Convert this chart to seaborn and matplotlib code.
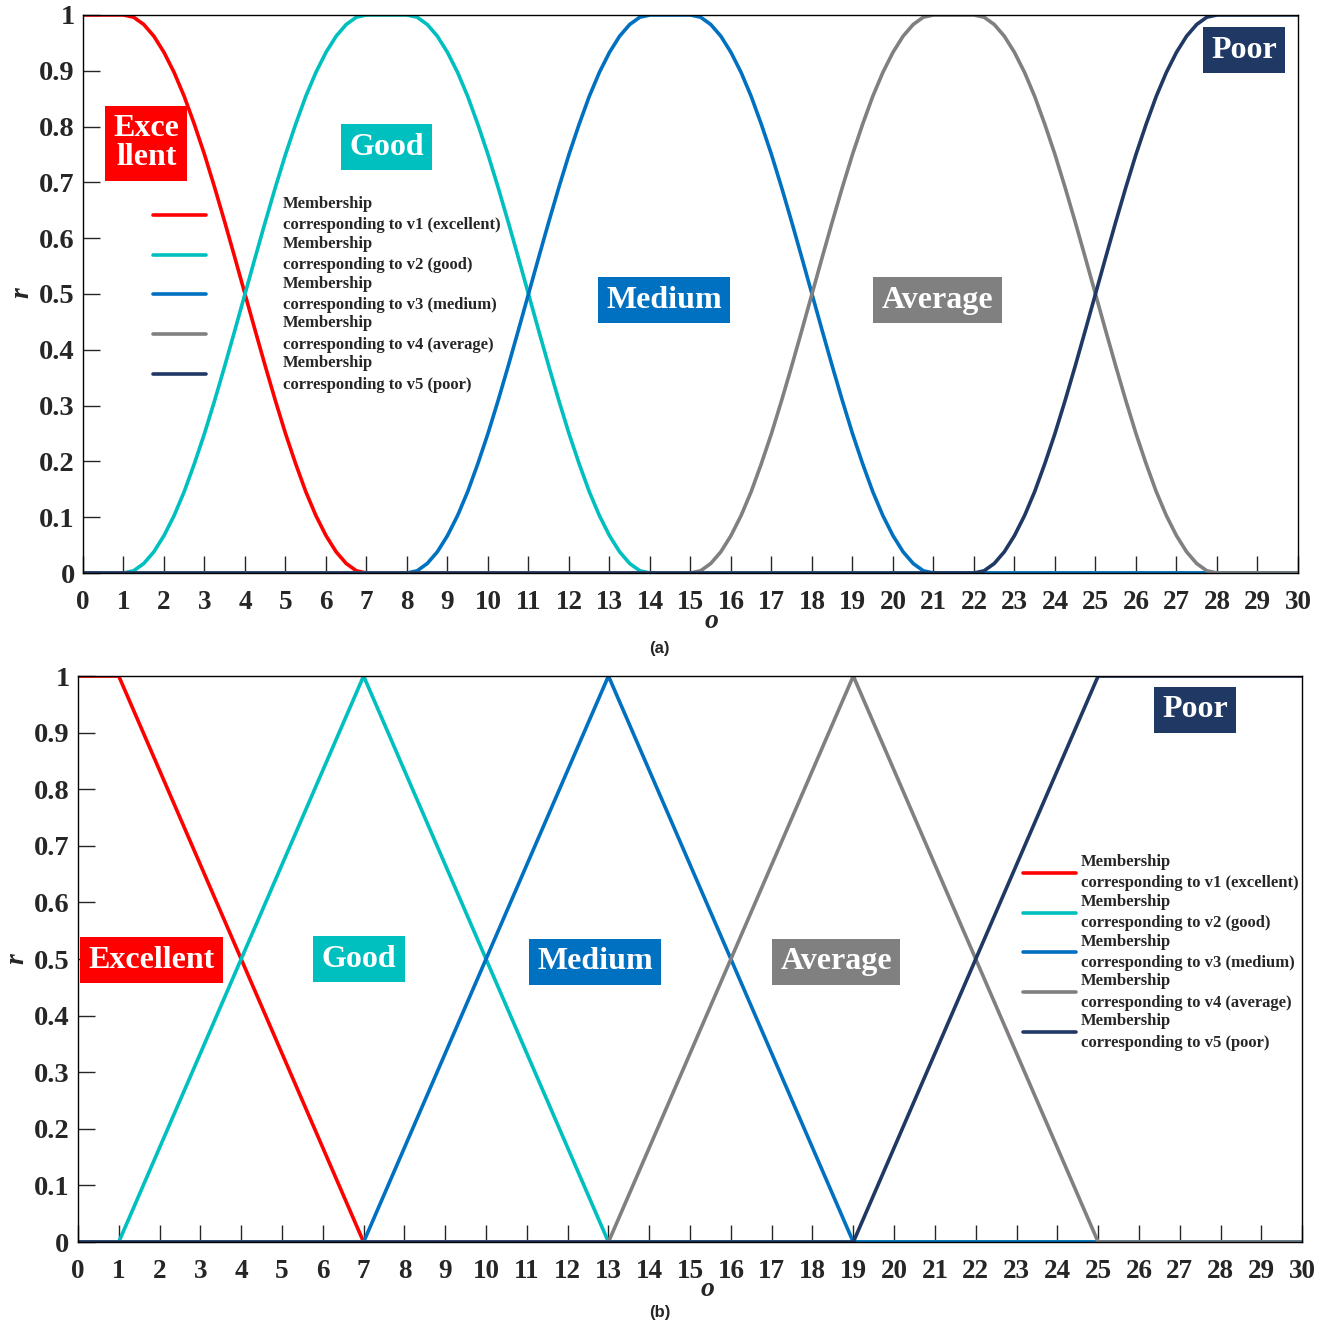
import matplotlib
matplotlib.use("Agg")
import matplotlib.pyplot as plt
import seaborn as sns

# colours of the five grades
COLORS = ['#FF0000', '#00BFBF', '#0070C0', '#808080', '#203864']
LEGEND = ['Membership\ncorresponding to v1 (excellent)',
          'Membership\ncorresponding to v2 (good)',
          'Membership\ncorresponding to v3 (medium)',
          'Membership\ncorresponding to v4 (average)',
          'Membership\ncorresponding to v5 (poor)']
Y_TICKS = [0, 0.1, 0.2, 0.3, 0.4, 0.5, 0.6, 0.7, 0.8, 0.9, 1]
Y_TICKLABELS = ['0', '0.1', '0.2', '0.3', '0.4', '0.5', '0.6', '0.7', '0.8', '0.9', '1']

# (a) smooth curves: break points of each grade ...
a_v1_x = [0, 1, 7, 30]
a_v1_y = [1, 1, 0, 0]
a_v2_x = [0, 1, 7, 8, 14, 30]
a_v2_y = [0, 0, 1, 1, 0, 0]
a_v3_x = [0, 8, 14, 15, 21, 30]
a_v3_y = [0, 0, 1, 1, 0, 0]
a_v4_x = [0, 15, 21, 22, 28, 30]
a_v4_y = [0, 0, 1, 1, 0, 0]
a_v5_x = [0, 22, 28, 30]
a_v5_y = [0, 0, 1, 1]
# ... and the S-shaped share of a transition, read at quarter steps of a 6-unit edge
EDGE = [0, 0.004, 0.017, 0.038, 0.067, 0.103, 0.146, 0.196, 0.25, 0.309, 0.371, 0.435, 0.5,
        0.565, 0.629, 0.691, 0.75, 0.804, 0.854, 0.897, 0.933, 0.962, 0.983, 0.996, 1]

# (b) triangular membership curves, break points
b_v1_x = [0, 1, 7, 30]
b_v1_y = [1, 1, 0, 0]
b_v2_x = [0, 1, 7, 13, 30]
b_v2_y = [0, 0, 1, 0, 0]
b_v3_x = [0, 7, 13, 19, 30]
b_v3_y = [0, 0, 1, 0, 0]
b_v4_x = [0, 13, 19, 25, 30]
b_v4_y = [0, 0, 1, 0, 0]
b_v5_x = [0, 19, 25, 30]
b_v5_y = [0, 0, 1, 1]

# grade boxes: text, x, y
a_tags = [('Exce\nllent', 1.56, 0.77), ('Good', 7.5, 0.763), ('Medium', 14.35, 0.489),
          ('Average', 21.1, 0.489), ('Poor', 28.67, 0.937)]
b_tags = [('Excellent', 1.81, 0.498), ('Good', 6.89, 0.50), ('Medium', 12.67, 0.495),
          ('Average', 18.58, 0.495), ('Poor', 27.38, 0.94)]


def smooth(xs, ys):
    # walk the break points, bending every sloped segment along EDGE
    px, py = [xs[0]], [ys[0]]
    n = len(EDGE) - 1
    for x0, x1, y0, y1 in zip(xs[:-1], xs[1:], ys[:-1], ys[1:]):
        if y0 == y1:
            px.append(x1)
            py.append(y1)
            continue
        for k in range(1, n + 1):
            px.append(x0 + (x1 - x0) * k / n)
            py.append(y0 + (y1 - y0) * EDGE[k])
    return px, py


a_series = [smooth(a_v1_x, a_v1_y), smooth(a_v2_x, a_v2_y), smooth(a_v3_x, a_v3_y),
            smooth(a_v4_x, a_v4_y), smooth(a_v5_x, a_v5_y)]
b_series = [(b_v1_x, b_v1_y), (b_v2_x, b_v2_y), (b_v3_x, b_v3_y), (b_v4_x, b_v4_y), (b_v5_x, b_v5_y)]

sns.set_style('white')
plt.rcParams['font.family'] = ['Liberation Serif', 'DejaVu Serif']
plt.rcParams['font.weight'] = 'bold'

fig = plt.figure(figsize=(13.3, 13.24), dpi=100)
ax_a = fig.add_axes([0.0624, 0.5672, 0.9135, 0.4215])
ax_b = fig.add_axes([0.0586, 0.0619, 0.9205, 0.4275])


def draw_panel(ax, series, tags, leg_anchor, text_pad, o_pos, r_pos):
    for (xs, ys), c, lab in zip(series, COLORS, LEGEND):
        sns.lineplot(x=xs, y=ys, ax=ax, color=c, lw=2.6, label=lab, estimator=None, sort=False)
    for (t, x, y), c in zip(tags, COLORS):
        ax.text(x, y, t, ha='center', va='center', color='white', fontsize=23, fontweight='bold',
                linespacing=1.0, bbox=dict(boxstyle='square,pad=0.26', fc=c, ec='none'))
    ax.set_xlim(0, 30)
    ax.set_ylim(0, 1)
    ax.set_xticks(range(0, 31))
    ax.set_yticks(Y_TICKS)
    ax.set_yticklabels(Y_TICKLABELS)
    ax.tick_params(direction='in', length=12, width=1, bottom=True, left=True,
                   labelcolor='#262626')
    ax.tick_params(axis='x', labelsize=19.5, pad=12)
    ax.tick_params(axis='y', labelsize=20.5, pad=6)
    for s in ax.spines.values():
        s.set_color('black')
        s.set_linewidth(1.0)
    ax.set_xlabel('o', fontsize=20, fontstyle='italic', fontweight='bold', va='center')
    ax.xaxis.set_label_coords(*o_pos)
    ax.set_ylabel('r', fontsize=20, fontstyle='italic', fontweight='bold', va='center')
    ax.yaxis.set_label_coords(*r_pos)
    leg = ax.legend(loc='upper left', bbox_to_anchor=leg_anchor, frameon=False, fontsize=12,
                    handlelength=3.2, handletextpad=text_pad, labelspacing=0.15, borderpad=0,
                    borderaxespad=0)
    for t in leg.get_texts():
        t.set_linespacing(1.45)


draw_panel(ax_a, a_series, a_tags, (0.0576, 0.676), 4.6, (0.517, -0.086), (-0.050, 0.502))
draw_panel(ax_b, b_series, b_tags, (0.772, 0.686), 0.25, (0.514, -0.083), (-0.050, 0.50))

fig.text(0.496, 0.5105, '(a)', ha='center', va='center', fontsize=12, fontweight='bold',
         family=['Liberation Sans', 'DejaVu Sans'])
fig.text(0.496, 0.0085, '(b)', ha='center', va='center', fontsize=12, fontweight='bold',
         family=['Liberation Sans', 'DejaVu Sans'])

fig.savefig('out.png', dpi=100)
